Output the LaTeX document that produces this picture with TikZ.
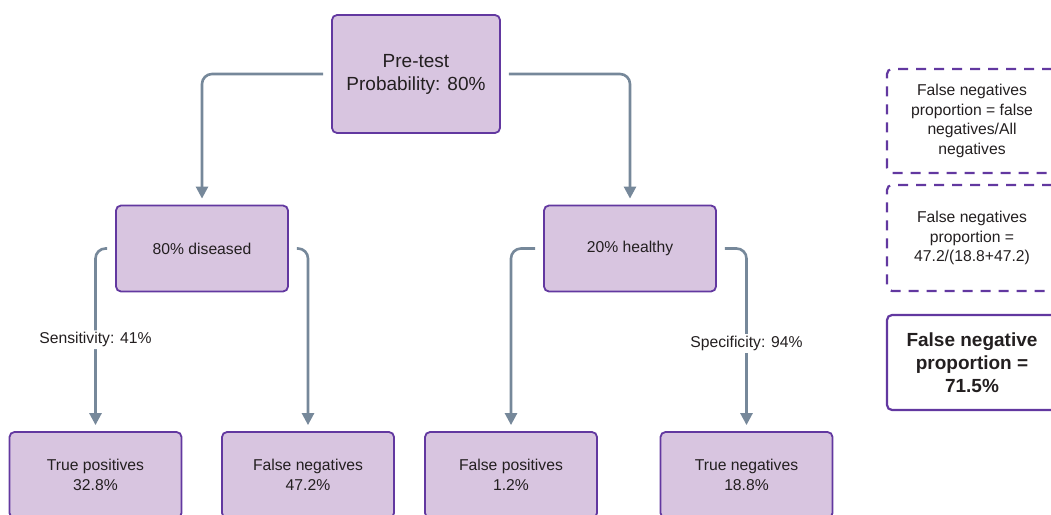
\documentclass[tikz,border=0pt]{standalone}
\usepackage{fontspec}
\setmainfont{Liberation Sans}
\usetikzlibrary{arrows.meta}
\definecolor{boxfill}{HTML}{D8C5E0}
\definecolor{boxline}{HTML}{6238A0}
\definecolor{arrowgray}{HTML}{76889A}
\definecolor{textdark}{HTML}{231F20}

\begin{document}
\begin{tikzpicture}[x=1pt, y=-1pt,
  every node/.style = {align=center, text=textdark,
    font=\fontsize{15.7}{19.5}\selectfont},
  box/.style = {shape=rectangle, rounded corners=5pt, draw=boxline,
    line width=1.8pt, fill=boxfill, minimum width=172pt, minimum height=86pt},
  note/.style = {shape=rectangle, rounded corners=5pt, draw=boxline,
    line width=2.2pt, dash pattern=on 10pt off 8pt, minimum width=170pt},
  result/.style = {note, solid, minimum height=95pt,
    font=\bfseries\fontsize{19}{23}\selectfont},
  link/.style = {draw=arrowgray, line width=2.6pt, rounded corners=10pt,
    -{Triangle[width=12pt,length=12pt]}, shorten <=8pt, shorten >=6pt},
  lbl/.style = {fill=white, inner sep=2pt}]
  \useasboundingbox (0,0) rectangle (1051,514);
  \clip (0,0) rectangle (1051,514);

  % tree
  \node[box, minimum width=168pt, minimum height=118pt,
    font=\fontsize{19}{23}\selectfont] (pretest) at (416,74) {Pre-test\\Probability: 80\%};
  \node[box] (diseased) at (202,248.5) {80\% diseased};
  \node[box] (healthy) at (630,248.5) {20\% healthy};
  \node[box] (truepos) at (95.5,475) {True positives\\32.8\%};
  \node[box] (falseneg) at (308,475) {False negatives\\47.2\%};
  \node[box] (falsepos) at (511,475) {False positives\\1.2\%};
  \node[box] (trueneg) at (746.5,475) {True negatives\\18.8\%};

  \draw[link] (pretest.west) -| (diseased.north);
  \draw[link] (pretest.east) -| (healthy.north);
  \draw[link] (diseased.west) -| node[lbl, pos=0.75] (senslbl) {Sensitivity: 41\%} (truepos.north);
  \draw[link] (diseased.east) -| (falseneg.north);
  \draw[link] (healthy.west) -| (falsepos.north);
  \draw[link] (healthy.east) -| node[lbl, pos=0.76] (speclbl) {Specificity: 94\%} (trueneg.north);

  % side notes
  \node[note, minimum height=104pt] (fnratio) at (972,121)
    {False negatives\\proportion = false\\negatives/All\\negatives};
  \node[note, minimum height=106pt] (fncalc) at (972,238)
    {False negatives\\proportion =\\47.2/(18.8+47.2)};
  \node[result] (fnresult) at (972,362.5) {False negative\\proportion =\\71.5\%};
\end{tikzpicture}
\end{document}
